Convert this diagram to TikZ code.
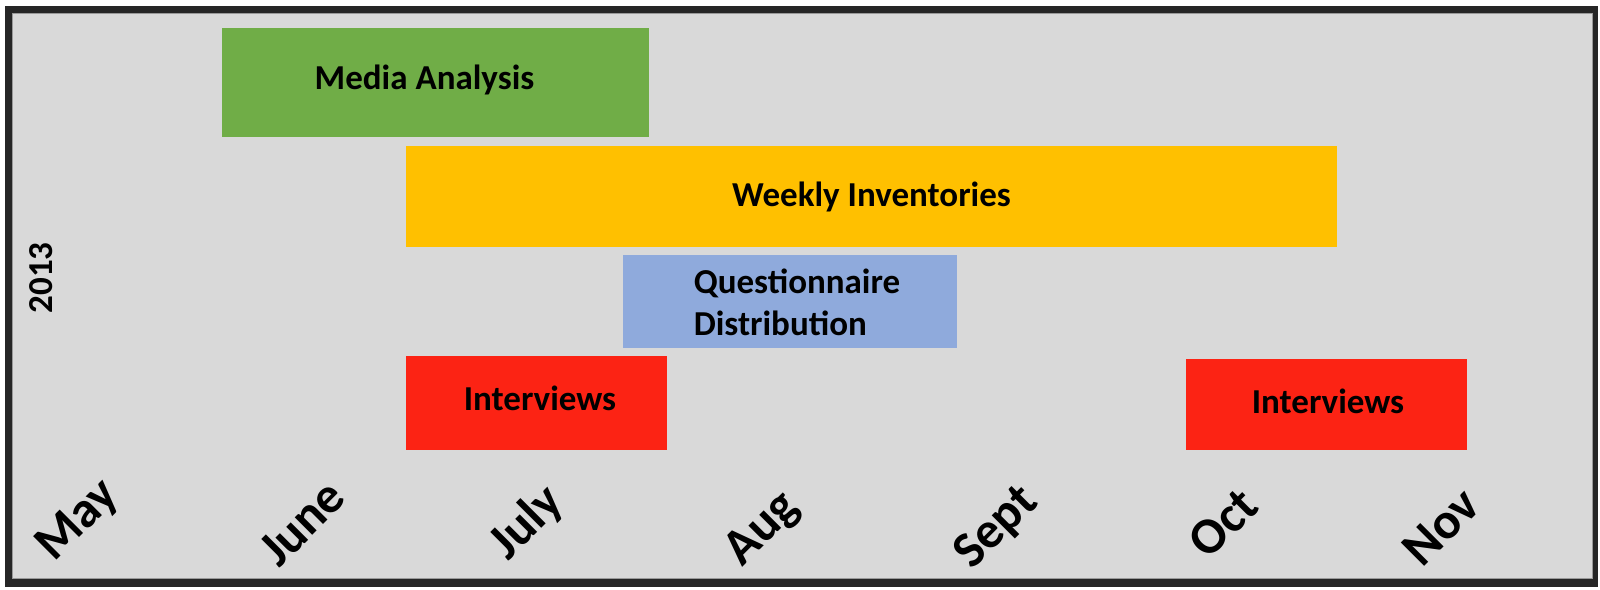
\documentclass[tikz,border=0pt]{standalone}
\usepackage{fontspec}
\setmainfont{Carlito}
\definecolor{framec}{HTML}{262626}
\definecolor{bgc}{HTML}{D9D9D9}
\definecolor{greenc}{HTML}{70AD47}
\definecolor{yellowc}{HTML}{FFC000}
\definecolor{bluec}{HTML}{8FAADC}
\definecolor{redc}{HTML}{FC2314}
\tikzset{
  bar/.style={inner sep=0pt, outer sep=0pt, font=\fontsize{35}{42}\selectfont\bfseries},
  month/.style={rotate=45, inner sep=0pt, font=\fontsize{51}{56}\selectfont\bfseries},
  lbl/.style={inner sep=0pt, font=\fontsize{35}{42}\selectfont\bfseries}
}
\begin{document}
\begin{tikzpicture}[x=1pt,y=-1pt]
\useasboundingbox[fill=white] (0,0) rectangle (1600,589);
\fill[framec] (5,6) rectangle (1598,587);
\fill[bgc] (12,13) rectangle (1593,579);
\draw[gray!80, line width=1.2pt] (12.6,13.6) rectangle (1592.4,578.4);

\node[bar, fill=greenc, minimum width=427pt, minimum height=109pt] (media) at (435.5,82.5) {};
\node[lbl] (mediat) at (424.5,80) {Media Analysis};

\node[bar, fill=yellowc, minimum width=931pt, minimum height=101pt] (weekly) at (871.5,196.5) {Weekly Inventories};

\node[bar, fill=bluec, minimum width=334pt, minimum height=93pt] (quest) at (790,301.5) {};
\node[lbl, align=left] (questt) at (797,302) {Questionnaire\\Distribution};

\node[bar, fill=redc, minimum width=261pt, minimum height=94pt] (int1) at (536.5,403) {};
\node[lbl] (int1t) at (540,398) {Interviews};

\node[bar, fill=redc, minimum width=281pt, minimum height=91pt] (int2) at (1326.5,404.5) {};
\node[lbl] (int2t) at (1328,401) {Interviews};

\node[lbl, rotate=90] (year) at (41,278) {2013};

\node[month] (may) at (79,521) {May};
\node[month] (june) at (302,523) {June};
\node[month] (july) at (527,523) {July};
\node[month] (aug) at (763,530) {Aug};
\node[month] (sept) at (997,528) {Sept};
\node[month] (oct) at (1223,523) {Oct};
\node[month] (nov) at (1441,527) {Nov};
\end{tikzpicture}
\end{document}
